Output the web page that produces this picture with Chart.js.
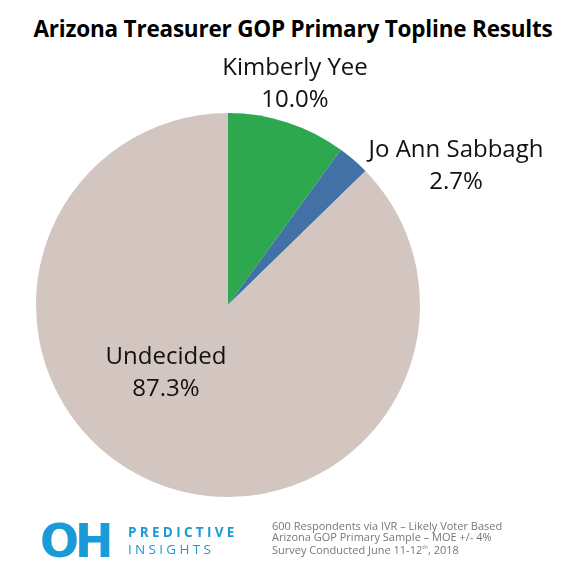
<!DOCTYPE html>
<html><head><meta charset="utf-8">
<script src="https://cdn.jsdelivr.net/npm/chart.js@4"></script>
<style>
body{margin:0;background:#fff;width:579px;height:582px;position:relative;overflow:hidden;font-family:"Open Sans",sans-serif}
#title{position:absolute;left:0;width:586px;top:13px;text-align:center;font-weight:bold;font-size:22.5px;color:#000;letter-spacing:-0.2px}
#c{position:absolute;left:0;top:0}
#logo{position:absolute;left:40px;top:514px;color:#1a9ad6;font-size:46px;font-weight:bold;letter-spacing:-4px;font-family:"DejaVu Sans"}
#brand{position:absolute;left:128px;top:524px;color:#1a9ad6;font-size:13.5px;line-height:17px;letter-spacing:3.3px}
#note{position:absolute;left:272px;top:520px;color:#777;font-size:11px;line-height:11px}
</style></head><body>
<div id="title">Arizona Treasurer GOP Primary Topline Results</div>
<canvas id="c" width="579" height="582"></canvas>
<div id="logo">OH</div>
<div id="brand"><b>PREDICTIVE</b><br>INSIGHTS</div>
<div id="note">600 Respondents via IVR – Likely Voter Based<br>Arizona GOP Primary Sample – MOE +/- 4%<br>Survey Conducted June 11-12<sup style="font-size:6px">th</sup>, 2018</div>
<script>
const candidates = ["Kimberly Yee", "Jo Ann Sabbagh", "Undecided"];
const shares = [10.0, 2.7, 87.3];
const colors = ["#2ea84f", "#4271a6", "#d3c6c1"];
const labelPos = [[295, 68], [456, 150], [166, 357]];

const labelPlugin = {
  id: "sliceLabels",
  afterDraw(chart) {
    const ctx = chart.ctx;
    ctx.save();
    ctx.font = "24px 'Open Sans'";
    ctx.fillStyle = "#111";
    ctx.textAlign = "center";
    ctx.textBaseline = "middle";
    candidates.forEach((name, i) => {
      const [x, y] = labelPos[i];
      ctx.fillText(name, x, y);
      ctx.fillText(shares[i].toFixed(1) + "%", x, y + 32);
    });
    ctx.restore();
  }
};

new Chart(document.getElementById("c"), {
  type: "pie",
  data: {
    labels: candidates,
    datasets: [{ data: shares, backgroundColor: colors, borderWidth: 0 }]
  },
  options: {
    responsive: false,
    animation: false,
    layout: { padding: { left: 36, right: 159, top: 113, bottom: 85 } },
    plugins: { legend: { display: false }, tooltip: { enabled: false } }
  },
  plugins: [labelPlugin]
});
</script>
</body></html>
